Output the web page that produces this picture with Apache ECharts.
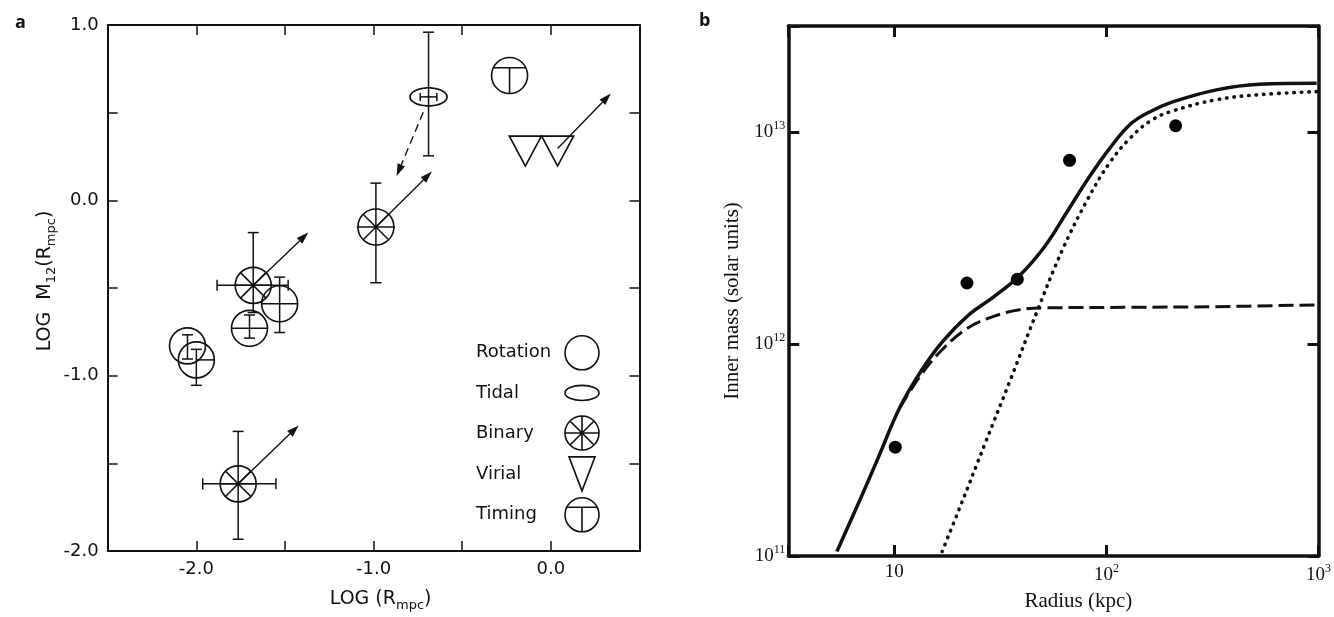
<!DOCTYPE html>
<html><head><meta charset="utf-8">
<script src="https://cdn.jsdelivr.net/npm/echarts@6/dist/echarts.min.js"></script>
<style>html,body{margin:0;padding:0;background:#fff}#c{width:1334px;height:617px}</style>
</head><body><div id="c"></div>
<script>
// ---------- Panel a data (log R_mpc, log M12) ----------
const rotationPoints = [[-2.05,-0.83],[-2.00,-0.91],[-1.70,-0.73],[-1.53,-0.59]];
const rotationYErr   = [[-0.905,-0.767],[-1.055,-0.85],[-0.786,-0.654],[-0.754,-0.438]];
const rotationXErr   = [[null,null],[-2.00,-1.90],[-1.80,-1.60],[-1.63,-1.43]];

const tidalPoints = [[-0.69,0.59]];
const tidalYErr   = [[0.254,0.959]];
const tidalXErr   = [[-0.737,-0.643]];

const binaryPoints = [[-1.764,-1.617],[-1.679,-0.485],[-0.987,-0.152]];
const binaryYErr   = [[-1.933,-1.318],[-0.64,-0.184],[-0.470,0.098]];
const binaryXErr   = [[-1.964,-1.551],[-1.883,-1.482],[null,null]];

const virialPoints = [[-0.144,0.281],[0.038,0.281]];
const timingPoints = [[-0.233,0.712]];

const solidArrows  = [[-1.764,-1.617,-1.423,-1.284],[-1.679,-0.485,-1.369,-0.184],[-0.987,-0.152,-0.671,0.164],[0.038,0.295,0.338,0.609]];
const dashedArrows = [[-0.72,0.502,-0.870,0.139]];

const legendNames = ['Rotation','Tidal','Binary','Virial','Timing'];

// ---------- Panel b data (radius kpc, inner mass) ----------
const dotRadius = [10.1, 22.0, 38.0, 67.0, 212];
const dotMass   = [3.26e11, 1.94e12, 2.02e12, 7.35e12, 1.07e13];

const totalRadius = [5.36, 6.9, 8.36, 10.6, 13.3, 16.8, 22.2, 29.4, 38.9, 51.4, 64.9, 81.8, 103, 130, 164, 207, 330, 525, 980];
const totalMass   = [1.05e11, 1.85e11, 2.88e11, 5.0e11, 7.4e11, 1.02e12, 1.36e12, 1.67e12, 2.1e12, 2.9e12, 4.17e12, 6.0e12, 8.3e12, 1.09e13, 1.26e13, 1.39e13, 1.58e13, 1.68e13, 1.70e13];

const haloRadius = [10.6, 13.3, 16.8, 22.2, 29.4, 38.9, 51.4, 130, 330, 980];
const haloMass   = [5.0e11, 7.1e11, 9.4e11, 1.19e12, 1.35e12, 1.45e12, 1.48e12, 1.49e12, 1.5e12, 1.53e12];

const dotLineRadius = [16.8, 20.3, 26.8, 35.5, 46.9, 62, 81.8, 103, 130, 164, 207, 330, 525, 980];
const dotLineMass   = [1.05e11, 1.68e11, 3.4e11, 6.9e11, 1.41e12, 2.78e12, 4.84e12, 7.1e12, 9.4e12, 1.14e13, 1.26e13, 1.42e13, 1.5e13, 1.55e13];

// ---------- helpers ----------
const INK = '#111';
const R = 18;
function seg(p1, p2, w, dash) {
  return {type:'line', shape:{x1:p1[0],y1:p1[1],x2:p2[0],y2:p2[1]}, style:{stroke:INK, lineWidth:w||1.5, lineDash:dash||null, fill:null}};
}
function circ(c, r) { return {type:'circle', shape:{cx:c[0],cy:c[1],r:r}, style:{fill:'none', stroke:INK, lineWidth:1.6}}; }
function vBar(api, x, lo, hi, cap) {
  if (isNaN(lo) || isNaN(hi)) return [];
  const a = api.coord([x, lo]), b = api.coord([x, hi]);
  const out = [seg(a,b)];
  if (cap) { out.push(seg([a[0]-cap,a[1]],[a[0]+cap,a[1]])); out.push(seg([b[0]-cap,b[1]],[b[0]+cap,b[1]])); }
  return out;
}
function hBar(api, y, lo, hi, cap) {
  if (isNaN(lo) || isNaN(hi)) return [];
  const a = api.coord([lo, y]), b = api.coord([hi, y]);
  const out = [seg(a,b)];
  if (cap) { out.push(seg([a[0],a[1]-cap],[a[0],a[1]+cap])); out.push(seg([b[0],b[1]-cap],[b[0],b[1]+cap])); }
  return out;
}
function rows(pts, yErr, xErr) {
  return pts.map((p,i)=>[p[0],p[1],
    yErr?yErr[i][0]:null, yErr?yErr[i][1]:null,
    xErr?xErr[i][0]:null, xErr?xErr[i][1]:null]);
}
function renderRotation(params, api) {
  const x = api.value(0), y = api.value(1), c = api.coord([x,y]);
  const ch = [].concat(vBar(api,x,api.value(2),api.value(3),5.5), hBar(api,y,api.value(4),api.value(5),0));
  ch.push(circ(c,R));
  return {type:'group', children:ch};
}
function renderTidal(params, api) {
  const x = api.value(0), y = api.value(1), c = api.coord([x,y]);
  const ch = [].concat(vBar(api,x,api.value(2),api.value(3),5.5), hBar(api,y,api.value(4),api.value(5),4));
  const pts = [];
  for (let k=0;k<64;k++){ const t=k/64*Math.PI*2; pts.push([c[0]+18.5*Math.cos(t), c[1]+9*Math.sin(t)]); }
  ch.push({type:'polygon', shape:{points:pts}, style:{fill:'none', stroke:INK, lineWidth:1.7}});
  return {type:'group', children:ch};
}
function renderBinary(params, api) {
  const x = api.value(0), y = api.value(1), c = api.coord([x,y]);
  const ch = [].concat(vBar(api,x,api.value(2),api.value(3),5.5), hBar(api,y,api.value(4),api.value(5),5.5));
  const d = R*0.7071;
  ch.push(seg([c[0]-d,c[1]-d],[c[0]+d,c[1]+d]));
  ch.push(seg([c[0]-d,c[1]+d],[c[0]+d,c[1]-d]));
  ch.push(seg([c[0]-R-1,c[1]],[c[0]+R+1,c[1]]));
  ch.push({type:'circle', shape:{cx:c[0],cy:c[1],r:2}, style:{fill:INK}});
  ch.push(circ(c,R));
  return {type:'group', children:ch};
}
function renderVirial(params, api) {
  const c = api.coord([api.value(0), api.value(1)]);
  return {type:'polygon', shape:{points:[[c[0]-16,c[1]-15],[c[0]+16,c[1]-15],[c[0],c[1]+15]]}, style:{fill:'none', stroke:INK, lineWidth:1.7}};
}
function renderTiming(params, api) {
  const c = api.coord([api.value(0), api.value(1)]);
  const off = 7.7, half = Math.sqrt(R*R-off*off);
  return {type:'group', children:[
    circ(c,R),
    seg([c[0]-half,c[1]-off],[c[0]+half,c[1]-off],1.6),
    seg([c[0],c[1]-off],[c[0],c[1]+R],1.6)
  ]};
}
function renderArrow(dashed) {
  return function(params, api) {
    const p1 = api.coord([api.value(0),api.value(1)]), p2 = api.coord([api.value(2),api.value(3)]);
    const dx = p2[0]-p1[0], dy = p2[1]-p1[1], L = Math.hypot(dx,dy), ux = dx/L, uy = dy/L;
    const hl = 12, hw = 4, bx = p2[0]-ux*hl, by = p2[1]-uy*hl;
    return {type:'group', children:[
      seg(p1,[bx,by],1.4, dashed?[8,5]:null),
      {type:'polygon', shape:{points:[[p2[0],p2[1]],[bx-uy*hw,by+ux*hw],[bx+uy*hw,by-ux*hw]]}, style:{fill:INK}}
    ]};
  };
}

// legend icons (stroke-only paths)
const circlePath = 'M20,2A18,18,0,1,1,20,38A18,18,0,1,1,20,2Z';
const legendIcons = {
  Rotation: 'path://' + circlePath,
  Tidal: 'path://M2,20A18,8,0,1,1,38,20A18,8,0,1,1,2,20Z',
  Binary: 'path://' + circlePath + 'M20,2L20,38M2,20L38,20M7.27,7.27L32.73,32.73M32.73,7.27L7.27,32.73',
  Virial: 'path://M7,3L33,3L20,37Z',
  Timing: 'path://' + circlePath + 'M4.5,12L35.5,12M20,12L20,38'
};

// ---------- axis helpers ----------
const fontA = 'DejaVu Sans';
const fontB = 'Liberation Serif';
function labA(v) { return Math.abs(v - Math.round(v)) < 1e-9 ? v.toFixed(1) : ''; }
function labLog(v) {
  const l = Math.log10(v), r = Math.round(l);
  if (Math.abs(l - r) > 1e-6) return '';
  return r === 1 ? '10' : '10{sup|' + r + '}';
}
const supRich = { sup: { fontSize: 12, fontFamily: fontB, color: INK, padding: [0,0,12,0] } };
const subRich = { sub: { fontSize: 13, fontFamily: fontA, color: INK, padding: [13,0,0,0] } };

function axisA(extra) {
  return Object.assign({
    type:'value', gridIndex:0, interval:0.5,
    axisLine:{show:true, onZero:false, lineStyle:{color:INK, width:2}},
    axisTick:{show:true, inside:true, length:10, lineStyle:{color:INK, width:1.5}},
    splitLine:{show:false},
    axisLabel:{show:true, formatter:labA, color:INK, fontSize:18, fontFamily:fontA, margin:9}
  }, extra);
}
function axisB(extra) {
  return Object.assign({
    type:'log', logBase:10, gridIndex:1,
    axisLine:{show:true, onZero:false, lineStyle:{color:INK, width:3.5}},
    axisTick:{show:true, inside:true, length:11, lineStyle:{color:INK, width:3}},
    minorTick:{show:false}, splitLine:{show:false}, minorSplitLine:{show:false},
    axisLabel:{show:true, formatter:labLog, color:INK, fontSize:19, fontFamily:fontB, rich:supRich}
  }, extra);
}

const chart = echarts.init(document.getElementById('c'), null, {renderer:'canvas'});
chart.setOption({
  animation:false,
  backgroundColor:'#fff',
  title:[
    {text:'a', left:10, top:9, textStyle:{fontSize:18, fontWeight:'bold', fontFamily:'Open Sans', color:INK}},
    {text:'b', left:694, top:7, textStyle:{fontSize:18, fontWeight:'bold', fontFamily:'Open Sans', color:INK}}
  ],
  grid:[
    {left:107.7, top:25, right:694.5, bottom:60, containLabel:false},
    {left:788.3, top:26, right:12.3, bottom:59.7, containLabel:false}
  ],
  legend:{
    data: legendNames.map(n => ({name:n, icon:legendIcons[n]})),
    orient:'vertical', align:'right', left:476, top:335, padding:0,
    itemWidth:34, itemHeight:34, itemGap:5.3, selectedMode:false,
    itemStyle:{color:'rgba(0,0,0,0)', borderColor:INK, borderWidth:1.6},
    formatter: n => '{t|' + n + '}',
    textStyle:{fontSize:18, fontFamily:fontA, color:INK, rich:{t:{width:84, height:34, lineHeight:34, align:'left', fontSize:18, fontFamily:fontA, color:INK}}}
  },
  xAxis:[
    axisA({min:-2.5, max:0.5, position:'bottom',
      name:'LOG (R{sub|mpc})', nameLocation:'middle', nameGap:35,
      nameTextStyle:{fontSize:19, fontFamily:fontA, color:INK, rich:subRich, padding:[0,0,0,14]}}),
    axisA({min:-2.5, max:0.5, position:'top', axisLabel:{show:false}}),
    axisB({min:Math.pow(10,0.5), max:1000, position:'bottom',
      axisLabel:{show:true, formatter:labLog, color:INK, fontSize:19, fontFamily:fontB, rich:supRich, margin:7},
      name:'Radius (kpc)', nameLocation:'middle', nameGap:35,
      nameTextStyle:{fontSize:21, fontFamily:fontB, color:INK, padding:[0,0,0,50]}}),
    axisB({min:Math.pow(10,0.5), max:1000, position:'top', axisLabel:{show:false}})
  ],
  yAxis:[
    axisA({min:-2, max:1, position:'left',
      name:'LOG  M{sub|12}(R{sub|mpc})', nameLocation:'middle', nameGap:50,
      nameTextStyle:{fontSize:19, fontFamily:fontA, color:INK, rich:subRich, padding:[0,0,0,14]}}),
    axisA({min:-2, max:1, position:'right', axisLabel:{show:false}}),
    axisB({gridIndex:1, min:1e11, max:Math.pow(10,13.5), position:'left',
      axisLabel:{show:true, formatter:labLog, color:INK, fontSize:19, fontFamily:fontB, rich:supRich, margin:3},
      name:'Inner mass (solar units)', nameLocation:'middle', nameGap:45,
      nameTextStyle:{fontSize:21, fontFamily:fontB, color:INK, padding:[0,0,0,-20]}}),
    axisB({gridIndex:1, min:1e11, max:Math.pow(10,13.5), position:'right', axisLabel:{show:false}})
  ],
  series:[
    {type:'custom', name:'Rotation', xAxisIndex:0, yAxisIndex:0, encode:{x:0,y:1}, renderItem:renderRotation, data:rows(rotationPoints,rotationYErr,rotationXErr), silent:true, itemStyle:{color:INK}},
    {type:'custom', name:'Tidal', xAxisIndex:0, yAxisIndex:0, encode:{x:0,y:1}, renderItem:renderTidal, data:rows(tidalPoints,tidalYErr,tidalXErr), silent:true, itemStyle:{color:INK}},
    {type:'custom', name:'Binary', xAxisIndex:0, yAxisIndex:0, encode:{x:0,y:1}, renderItem:renderBinary, data:rows(binaryPoints,binaryYErr,binaryXErr), silent:true, itemStyle:{color:INK}},
    {type:'custom', name:'Virial', xAxisIndex:0, yAxisIndex:0, encode:{x:0,y:1}, renderItem:renderVirial, data:rows(virialPoints), silent:true, itemStyle:{color:INK}},
    {type:'custom', name:'Timing', xAxisIndex:0, yAxisIndex:0, encode:{x:0,y:1}, renderItem:renderTiming, data:rows(timingPoints), silent:true, itemStyle:{color:INK}},
    {type:'custom', name:'arrows', xAxisIndex:0, yAxisIndex:0, encode:{x:[0,2],y:[1,3]}, renderItem:renderArrow(false), data:solidArrows, silent:true},
    {type:'custom', name:'dashedArrows', xAxisIndex:0, yAxisIndex:0, encode:{x:[0,2],y:[1,3]}, renderItem:renderArrow(true), data:dashedArrows, silent:true},

    {type:'line', name:'Total', xAxisIndex:2, yAxisIndex:2, data:totalRadius.map((r,i)=>[r,totalMass[i]]), smooth:0.4, symbol:'none', silent:true,
      lineStyle:{color:INK, width:3.5}},
    {type:'line', name:'Luminous', xAxisIndex:2, yAxisIndex:2, data:haloRadius.map((r,i)=>[r,haloMass[i]]), smooth:0.4, symbol:'none', silent:true,
      lineStyle:{color:INK, width:3, type:[15,6]}},
    {type:'line', name:'Dark', xAxisIndex:2, yAxisIndex:2, data:dotLineRadius.map((r,i)=>[r,dotLineMass[i]]), smooth:0.4, symbol:'none', silent:true,
      lineStyle:{color:INK, width:3.6, type:[0.5,7], cap:'round'}},
    {type:'scatter', name:'Observed', xAxisIndex:2, yAxisIndex:2, data:dotRadius.map((r,i)=>[r,dotMass[i]]), symbolSize:13, silent:true,
      itemStyle:{color:'#000', opacity:1}}
  ]
});
</script>
</body></html>
